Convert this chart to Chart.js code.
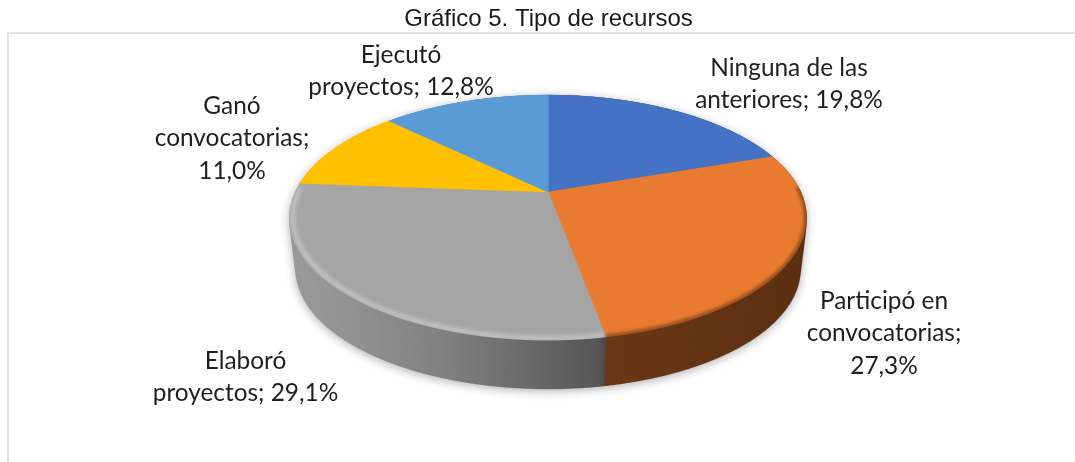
<!DOCTYPE html>
<html>
<head>
<meta charset="utf-8">
<style>
html, body { margin: 0; padding: 0; background: #fff; }
canvas { display: block; }
</style>
</head>
<body>
<canvas id="chart" width="1075" height="462"></canvas>
<script src="https://cdn.jsdelivr.net/npm/chart.js@4"></script>
<script>
const chartTitle = 'Gráfico 5. Tipo de recursos';
const categories = ['Ninguna de las anteriores', 'Participó en convocatorias', 'Elaboró proyectos', 'Ganó convocatorias', 'Ejecutó proyectos'];
const values = [19.8, 27.3, 29.1, 11.0, 12.8];
const sliceColors = ['#4472C4', '#E97B30', '#A5A5A5', '#FFC000', '#5B9BD5'];

// how each data label wraps, and where its first line sits
const labelLines = [
    ['Ninguna de las', 'anteriores; 19,8%'],
    ['Participó en', 'convocatorias;', '27,3%'],
    ['Elaboró', 'proyectos; 29,1%'],
    ['Ganó', 'convocatorias;', '11,0%'],
    ['Ejecutó', 'proyectos; 12,8%']
];
const labelSpots = [[789, 68], [884, 301], [245.5, 361], [232, 106], [401, 55]];

// perspective of the pie top
const view = { cx: 548, cy: 192, a: 117.2, b: 252.4, k: 0.208, midY: 217.5 };
const depth = { drop: 52.5, shrinkX: 0.025, shrinkY: 0.03, steps: 105 };
const SS = 2;
const TEX = 600;
const TEX_MID = 620;

function project(u, v) {
    const w = 1 - view.k * v;
    return [view.cx + view.b * u / w, view.cy + view.a * v / w];
}

function newLayer(w, h) {
    const c = document.createElement('canvas');
    c.width = w;
    c.height = h;
    return c;
}

function stackWall(ctx, top) {
    for (let i = depth.steps; i >= 0; i--) {
        const t = i / depth.steps;
        const sx = 1 - depth.shrinkX * t;
        const sy = 1 - depth.shrinkY * t;
        ctx.setTransform(sx, 0, 0, sy,
            view.cx * SS * (1 - sx),
            (view.midY + depth.drop * t) * SS - view.midY * SS * sy);
        ctx.drawImage(top, 0, 0);
    }
    ctx.setTransform(1, 0, 0, 1, 0, 0);
}

function rimStroke(ctx, arc, color, width, radius, blur) {
    ctx.save();
    ctx.globalCompositeOperation = 'source-atop';
    ctx.filter = `blur(${blur * SS}px)`;
    ctx.strokeStyle = color;
    ctx.lineWidth = width * SS;
    ctx.beginPath();
    let started = false;
    const n = 120;
    for (let i = 0; i <= n; i++) {
        const t = arc.startAngle + (arc.endAngle - arc.startAngle) * i / n;
        if (Math.sin(t) < -0.05) continue;
        const p = project(Math.cos(t) * radius, Math.sin(t) * radius);
        if (!started) { ctx.moveTo(p[0] * SS, p[1] * SS); started = true; }
        else ctx.lineTo(p[0] * SS, p[1] * SS);
    }
    ctx.stroke();
    ctx.restore();
}

const piePlugin = {
    id: 'perspectivePie',
    beforeDraw(chart) {
        const ctx = chart.ctx;
        ctx.save();
        ctx.fillStyle = '#fff';
        ctx.fillRect(0, 0, chart.width, chart.height);
        ctx.strokeStyle = '#d9d9d9';
        ctx.lineWidth = 1.5;
        ctx.beginPath();
        ctx.moveTo(8, chart.height);
        ctx.lineTo(8, 33);
        ctx.lineTo(chart.width, 33);
        ctx.stroke();
        ctx.restore();
    },
    beforeDatasetsDraw(chart) {
        const arcs = chart.getDatasetMeta(0).data;
        const R = arcs[0].outerRadius;

        // flat pie from the library's own arc elements
        const flat = newLayer(TEX_MID * 2, TEX_MID * 2);
        const fctx = flat.getContext('2d');
        const s = TEX / R;
        fctx.setTransform(s, 0, 0, s, TEX_MID - s * arcs[0].x, TEX_MID - s * arcs[0].y);
        arcs.forEach(arc => arc.draw(fctx));

        // row by row projection of the flat pie
        const W = chart.width * SS, H = chart.height * SS;
        const top = newLayer(W, H);
        const tctx = top.getContext('2d');
        tctx.imageSmoothingQuality = 'high';
        for (let row = 0; row < H; row++) {
            const d0 = row / SS - view.cy, d1 = (row + 1) / SS - view.cy;
            const v0 = d0 / (view.a + view.k * d0), v1 = d1 / (view.a + view.k * d1);
            if (v1 < -1.02 || v0 > 1.02) continue;
            const vm = (v0 + v1) / 2;
            const unit = view.b / (1 - view.k * vm) * SS;
            const span = TEX_MID / TEX * unit;
            tctx.drawImage(flat, 0, TEX_MID + v0 * TEX, TEX_MID * 2, (v1 - v0) * TEX,
                view.cx * SS - span, row, span * 2, 1);
        }

        // side wall: stack of the top, shrinking as it goes down, darkened left to right
        const side = newLayer(W, H);
        const sctx = side.getContext('2d');
        stackWall(sctx, top);
        const mask = newLayer(W, H);
        stackWall(mask.getContext('2d'), top);
        sctx.globalCompositeOperation = 'multiply';
        const g = sctx.createLinearGradient(290 * SS, 0, 806 * SS, 0);
        g.addColorStop(0, '#f4f4f4');
        g.addColorStop(0.3, '#c8c8c8');
        g.addColorStop(0.6, '#858585');
        g.addColorStop(0.61, '#757575');
        g.addColorStop(1, '#646464');
        sctx.fillStyle = g;
        sctx.fillRect(0, 0, W, H);
        sctx.globalCompositeOperation = 'destination-in';
        sctx.drawImage(mask, 0, 0);

        // bevel on the near edge of the top
        rimStroke(tctx, arcs[2], 'rgba(215,215,215,0.7)', 4, 0.99, 2);
        rimStroke(tctx, arcs[1], 'rgba(110,55,15,0.65)', 5, 1.0, 1.5);

        const ctx = chart.ctx;
        ctx.save();
        ctx.imageSmoothingQuality = 'high';
        ctx.shadowColor = 'rgba(0,0,0,0.3)';
        ctx.shadowBlur = 10;
        ctx.shadowOffsetY = 2;
        ctx.drawImage(side, 0, 0, chart.width, chart.height);
        ctx.shadowColor = 'transparent';
        ctx.drawImage(top, 0, 0, chart.width, chart.height);
        ctx.restore();
        return false;
    },
    afterDraw(chart) {
        const ctx = chart.ctx;
        ctx.save();
        ctx.font = '24.4px Lato';
        ctx.fillStyle = '#1f1f1f';
        ctx.textAlign = 'center';
        ctx.textBaseline = 'middle';
        labelLines.forEach((lines, i) => {
            lines.forEach((line, j) => {
                ctx.fillText(line, labelSpots[i][0], labelSpots[i][1] + j * 32.5);
            });
        });
        ctx.restore();
    }
};

new Chart(document.getElementById('chart'), {
    type: 'pie',
    plugins: [piePlugin],
    data: {
        labels: categories,
        datasets: [{
            data: values,
            backgroundColor: sliceColors,
            borderColor: sliceColors,
            borderWidth: 1
        }]
    },
    options: {
        responsive: false,
        animation: false,
        events: [],
        layout: { padding: { left: 22 } },
        plugins: {
            legend: { display: false },
            tooltip: { enabled: false },
            title: {
                display: true,
                text: chartTitle,
                color: '#1a1a1a',
                font: { family: 'Liberation Sans', size: 24, weight: 'normal' },
                padding: { top: 5, bottom: 8 }
            }
        }
    }
});
</script>
</body>
</html>
